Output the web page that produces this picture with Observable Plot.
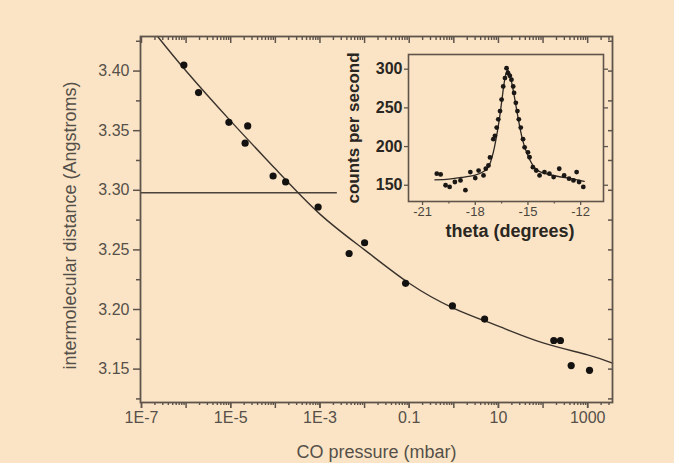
<!DOCTYPE html>
<html><head><meta charset="utf-8">
<script src="https://cdn.jsdelivr.net/npm/d3@7"></script>
<script src="https://cdn.jsdelivr.net/npm/@observablehq/plot@0.6"></script>
<style>
html,body{margin:0;padding:0;background:#fbe4c5;}
#wrap{position:relative;width:674px;height:463px;overflow:hidden;background:#fbe4c5;}
#inset{position:absolute;left:336px;top:44px;}
</style></head><body><div id="wrap"><div id="main"></div><div id="inset"></div></div>
<script>
// ---- main chart data ----
const pressure = [8.9e-7, 1.9e-6, 9.1e-6, 2.4e-5, 2.1e-5, 8.9e-5, 1.7e-4, 9.1e-4, 4.5e-3, 1.0e-2, 0.083, 0.93, 4.9, 174, 245, 427, 1100];
const distance = [3.405, 3.382, 3.357, 3.354, 3.3395, 3.312, 3.307, 3.286, 3.247, 3.256, 3.222, 3.203, 3.192, 3.174, 3.174, 3.153, 3.149];
const fitPressure = [2.3e-7, 1e-6, 1e-5, 1e-4, 1e-3, 1e-2, 0.1, 1, 10, 100, 1000, 3600];
const fitDistance = [3.429, 3.400, 3.358, 3.318, 3.280, 3.250, 3.222, 3.201, 3.186, 3.172, 3.162, 3.155];
const refLine = [{y: 3.298, x1: 9.5e-8, x2: 0.00245}];
const xTickValues = [1e-7, 1e-5, 1e-3, 0.1, 10, 1000];
const xTickLabels = ["1E-7", "1E-5", "1E-3", "0.1", "10", "1000"];
const yTickValues = [3.15, 3.20, 3.25, 3.30, 3.35, 3.40];
const yTickLabels = ["3.15", "3.20", "3.25", "3.30", "3.35", "3.40"];

// ---- inset data ----
const theta = [-20.19, -19.97, -19.69, -19.46, -19.16, -18.84, -18.56, -18.28, -18.0, -17.81, -17.53, -17.4, -17.25, -17.16, -16.97, -16.88, -16.78, -16.69, -16.59, -16.5, -16.41, -16.31, -16.22, -16.13, -16.03, -15.94, -15.84, -15.79, -15.69, -15.6, -15.52, -15.41, -15.28, -15.19, -15.0, -14.91, -14.72, -14.53, -14.34, -14.06, -13.78, -13.54, -13.22, -12.94, -12.66, -12.41, -12.23, -12.09, -11.85];
const counts = [164.9, 164.0, 150, 147.8, 154.2, 156.3, 143.6, 167, 159.3, 169, 162.7, 171.3, 175.5, 186, 209.6, 213.9, 224.6, 235.2, 245.9, 260.8, 277.8, 288.5, 301.3, 294.9, 291.5, 286.4, 277.8, 269.3, 256.5, 245.9, 235.2, 224.6, 209.6, 199, 192.6, 186.2, 173.4, 169.1, 162.7, 167, 164.9, 160.6, 171.3, 162.7, 158.5, 156.3, 167, 154.2, 147.8];
const fitTheta = [-20.3, -19.5, -18.8, -18.0, -17.5, -17.2, -16.9, -16.6, -16.4, -16.2, -16.0, -15.8, -15.6, -15.3, -15.0, -14.6, -14.0, -13.2, -12.4, -11.8];
const fitCounts = [157, 158, 160, 163, 168, 176, 200, 240, 275, 298, 290, 268, 242, 208, 188, 172, 165, 161, 158, 155];
const insetXTicks = [-21, -18, -15, -12];
const insetXLabels = ["-21", "-18", "-15", "-12"];
const insetXMinor = [-19.5, -16.5, -13.5];
const insetYTicks = [150, 200, 250, 300];
const insetYLabels = ["150", "200", "250", "300"];

const frameColor = "#5e544b";
const textColor = "#555049";
const font = "'Liberation Sans', Arial, sans-serif";

// axis tick positions (log decades and minor ticks)
const decades = d3.range(-7, 4).map(e => Math.pow(10, e));
const minors = [];
for (let e = -8; e <= 3; e++) for (let m = 2; m <= 9; m++) {
  const v = m * Math.pow(10, e);
  if (v > 9.5e-8 && v < 3600) minors.push(v);
}
const yMinor = [3.125, 3.175, 3.225, 3.275, 3.325, 3.375, 3.425];
const yAll = [3.125, 3.15, 3.175, 3.20, 3.225, 3.25, 3.275, 3.30, 3.325, 3.35, 3.375, 3.40, 3.425];

const pts = pressure.map((p, i) => ({p, d: distance[i]}));
const fit = fitPressure.map((p, i) => ({p, d: fitDistance[i]}));
const blank = () => "";

const main = Plot.plot({
  width: 674, height: 463,
  marginLeft: 140, marginRight: 62, marginTop: 36, marginBottom: 61,
  style: {background: "transparent", color: textColor, fontFamily: font},
  x: {type: "log", domain: [9.5e-8, 3600]},
  y: {domain: [3.122, 3.429]},
  marks: [
    Plot.ruleY(refLine, {y: "y", x1: "x1", x2: "x2", stroke: "#4a423b", strokeWidth: 1.5}),
    Plot.line(fit, {x: "p", y: "d", curve: "natural", stroke: "#3a332d", strokeWidth: 1.4}),
    Plot.dot(pts, {x: "p", y: "d", r: 3.6, fill: "#141210", stroke: "none"}),
    // bottom axis
    Plot.axisX(minors, {anchor: "bottom", tickSize: 3, tickFormat: blank, label: null, stroke: frameColor, strokeWidth: 1.4}),
    Plot.axisX(decades, {anchor: "bottom", tickSize: 6, tickFormat: blank, label: null, stroke: frameColor, strokeWidth: 1.5}),
    Plot.axisX(xTickValues, {anchor: "bottom", tickSize: 6, tickPadding: 3, fontSize: 16, label: null, stroke: frameColor, strokeWidth: 1.5,
      tickFormat: d => xTickLabels[xTickValues.indexOf(d)]}),
    // top axis (inward)
    Plot.axisX(minors, {anchor: "top", tickSize: -3, tickFormat: blank, label: null, stroke: frameColor, strokeWidth: 1.4}),
    Plot.axisX(decades, {anchor: "top", tickSize: -6, tickFormat: blank, label: null, stroke: frameColor, strokeWidth: 1.5}),
    // left axis
    Plot.axisY(yMinor, {anchor: "left", tickSize: 4, tickFormat: blank, label: null, stroke: frameColor, strokeWidth: 1.5}),
    Plot.axisY(yTickValues, {anchor: "left", tickSize: 7, tickPadding: 4, fontSize: 16, label: null, stroke: frameColor, strokeWidth: 1.5,
      tickFormat: d => yTickLabels[yTickValues.indexOf(d)]}),
    // right axis (inward)
    Plot.axisY(yAll, {anchor: "right", tickSize: -5, tickFormat: blank, label: null, stroke: frameColor, strokeWidth: 1.5}),
    Plot.frame({stroke: frameColor, strokeWidth: 1.8}),
    Plot.text(["CO pressure (mbar)"], {frameAnchor: "bottom", dy: 50, lineAnchor: "middle", textAnchor: "middle", fontSize: 18, fill: textColor}),
    Plot.text(["intermolecular distance (Angstroms)"], {frameAnchor: "left", dx: -70, dy: 6, rotate: -90, textAnchor: "middle", lineAnchor: "middle", fontSize: 18, fill: textColor})
  ]
});
document.getElementById("main").appendChild(main);

const ipts = theta.map((t, i) => ({t, c: counts[i]}));
const ifit = fitTheta.map((t, i) => ({t, c: fitCounts[i]}));
const inset = Plot.plot({
  width: 277, height: 202,
  marginLeft: 72, marginRight: 10, marginTop: 10, marginBottom: 45,
  style: {background: "transparent", color: "#2a2622", fontFamily: font},
  x: {domain: [-21.8, -10.7]},
  y: {domain: [129, 319]},
  marks: [
    Plot.line(ifit, {x: "t", y: "c", curve: "natural", stroke: "#2e2924", strokeWidth: 1.3}),
    Plot.dot(ipts, {x: "t", y: "c", r: 2.4, fill: "#1a1714", stroke: "none"}),
    Plot.axisX(insetXTicks, {anchor: "bottom", tickSize: 4, tickPadding: 1, fontSize: 13, label: null, stroke: frameColor, strokeWidth: 1.3,
      tickFormat: d => insetXLabels[insetXTicks.indexOf(d)], fill: "#4a443e"}),
    Plot.axisX(insetXMinor, {anchor: "bottom", tickSize: 2.5, tickFormat: blank, label: null, stroke: frameColor, strokeWidth: 1.2}),
    Plot.axisY(insetYTicks, {anchor: "left", tickSize: 4, tickPadding: 2, fontSize: 16, fontWeight: "bold", label: null, stroke: frameColor, strokeWidth: 1.3,
      tickFormat: d => insetYLabels[insetYTicks.indexOf(d)], fill: "#2a2622"}),
    Plot.axisY(insetYTicks, {anchor: "right", tickSize: 4, tickFormat: blank, label: null, stroke: frameColor, strokeWidth: 1.3}),
    Plot.frame({stroke: frameColor, strokeWidth: 1.6}),
    Plot.text(["theta (degrees)"], {frameAnchor: "bottom", dx: 4, dy: 30, lineAnchor: "middle", textAnchor: "middle", fontSize: 18, fontWeight: "bold", fill: "#2a2622"}),
    Plot.text(["counts per second"], {frameAnchor: "left", dx: -55, rotate: -90, textAnchor: "middle", lineAnchor: "middle", fontSize: 17, fontWeight: "bold", fill: "#2a2622"})
  ]
});
document.getElementById("inset").appendChild(inset);
</script></body></html>
